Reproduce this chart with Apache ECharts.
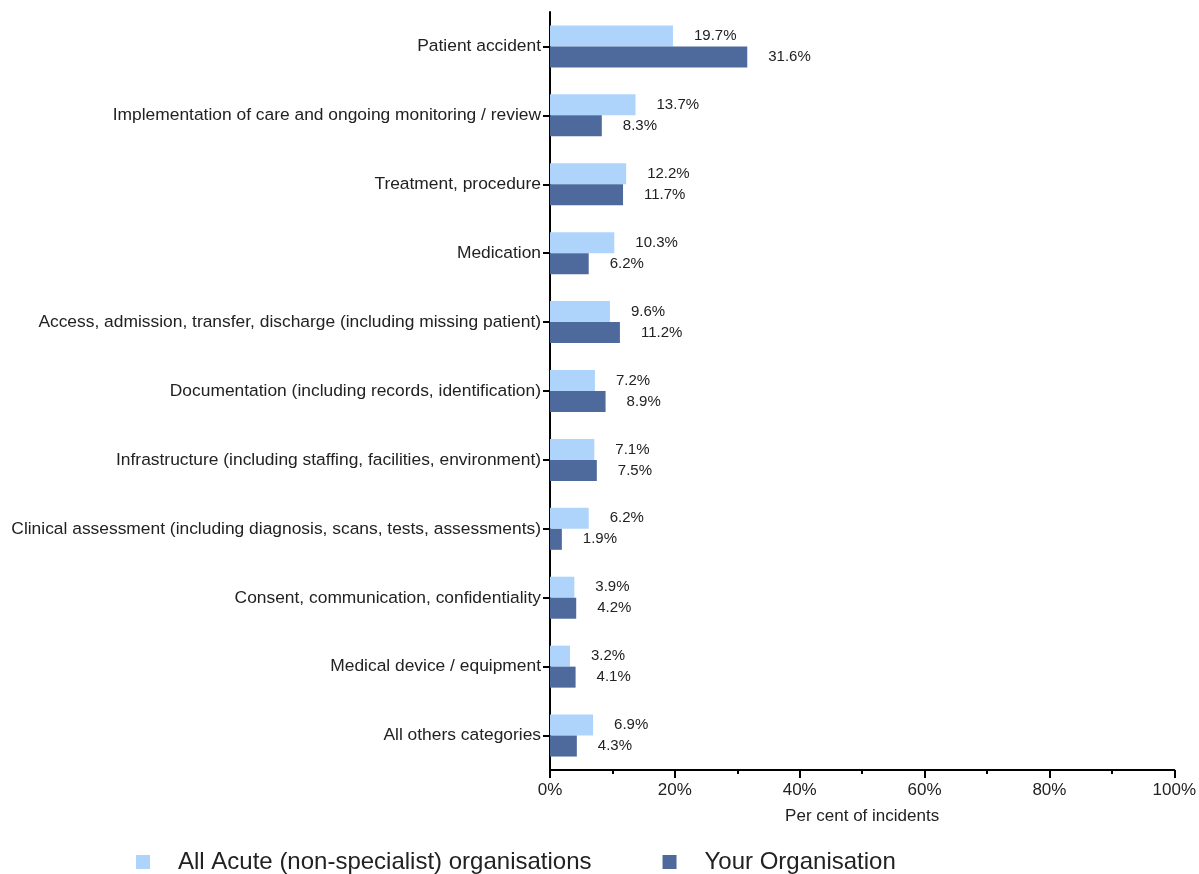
<!DOCTYPE html>
<html>
<head>
<meta charset="utf-8">
<script src="https://cdn.jsdelivr.net/npm/echarts@6/dist/echarts.min.js"></script>
<style>
html,body{margin:0;padding:0;background:#fff;}
#chart{width:1199px;height:874px;}
</style>
</head>
<body>
<div id="chart"></div>
<script>
const categories = [
  "Patient accident",
  "Implementation of care and ongoing monitoring / review",
  "Treatment, procedure",
  "Medication",
  "Access, admission, transfer, discharge (including missing patient)",
  "Documentation (including records, identification)",
  "Infrastructure (including staffing, facilities, environment)",
  "Clinical assessment (including diagnosis, scans, tests, assessments)",
  "Consent, communication, confidentiality",
  "Medical device / equipment",
  "All others categories"
];
const allAcute = [19.7, 13.7, 12.2, 10.3, 9.6, 7.2, 7.1, 6.2, 3.9, 3.2, 6.9];
const yourOrg = [31.6, 8.3, 11.7, 6.2, 11.2, 8.9, 7.5, 1.9, 4.2, 4.1, 4.3];
const seriesNames = ["All Acute (non-specialist) organisations", "Your Organisation"];
const xTicks = [0, 20, 40, 60, 80, 100];

const FONT = "'Liberation Sans', Arial, sans-serif";
const chart = echarts.init(document.getElementById('chart'), null, {renderer: 'canvas'});
const labelStyle = {
  show: true, position: 'right', distance: 21,
  formatter: '{c}%', color: '#222', fontSize: 15, fontFamily: FONT
};
chart.setOption({
  animation: false,
  textStyle: {fontFamily: FONT},
  grid: {left: 550, right: 23, top: 12, bottom: 104, containLabel: false},
  legend: {
    top: 845, left: 131,
    icon: 'rect', itemWidth: 14, itemHeight: 14, itemGap: 71,
    textStyle: {fontSize: 24, color: '#222', fontFamily: FONT, padding: [0, 0, 0, 23]},
    data: seriesNames
  },
  xAxis: {
    type: 'value', min: xTicks[0], max: xTicks[xTicks.length - 1], interval: 20,
    name: 'Per cent of incidents', nameLocation: 'middle', nameGap: 38,
    nameTextStyle: {fontSize: 17, color: '#222', fontFamily: FONT},
    axisLine: {show: true, lineStyle: {color: '#000', width: 2}},
    axisTick: {show: true, length: 8, lineStyle: {color: '#000', width: 2}},
    minorTick: {show: true, splitNumber: 2, length: 4, lineStyle: {color: '#000', width: 2}},
    splitLine: {show: false},
    axisLabel: {formatter: '{value}%', fontSize: 17, color: '#222', margin: 12, fontFamily: FONT}
  },
  yAxis: {
    type: 'category', data: categories, inverse: true,
    axisLine: {show: true, lineStyle: {color: '#000', width: 2}},
    axisTick: {show: true, alignWithLabel: true, length: 7, lineStyle: {color: '#000', width: 2}},
    axisLabel: {fontSize: 17.4, color: '#222', margin: 9, fontFamily: FONT}
  },
  series: [
    {name: seriesNames[0], type: 'bar', data: allAcute, barWidth: 21, barGap: '0%',
     itemStyle: {color: '#aed4fc'}, label: labelStyle},
    {name: seriesNames[1], type: 'bar', data: yourOrg, barWidth: 21, barGap: '0%',
     itemStyle: {color: '#4e6a9c'}, label: labelStyle}
  ]
});
</script>
</body>
</html>
